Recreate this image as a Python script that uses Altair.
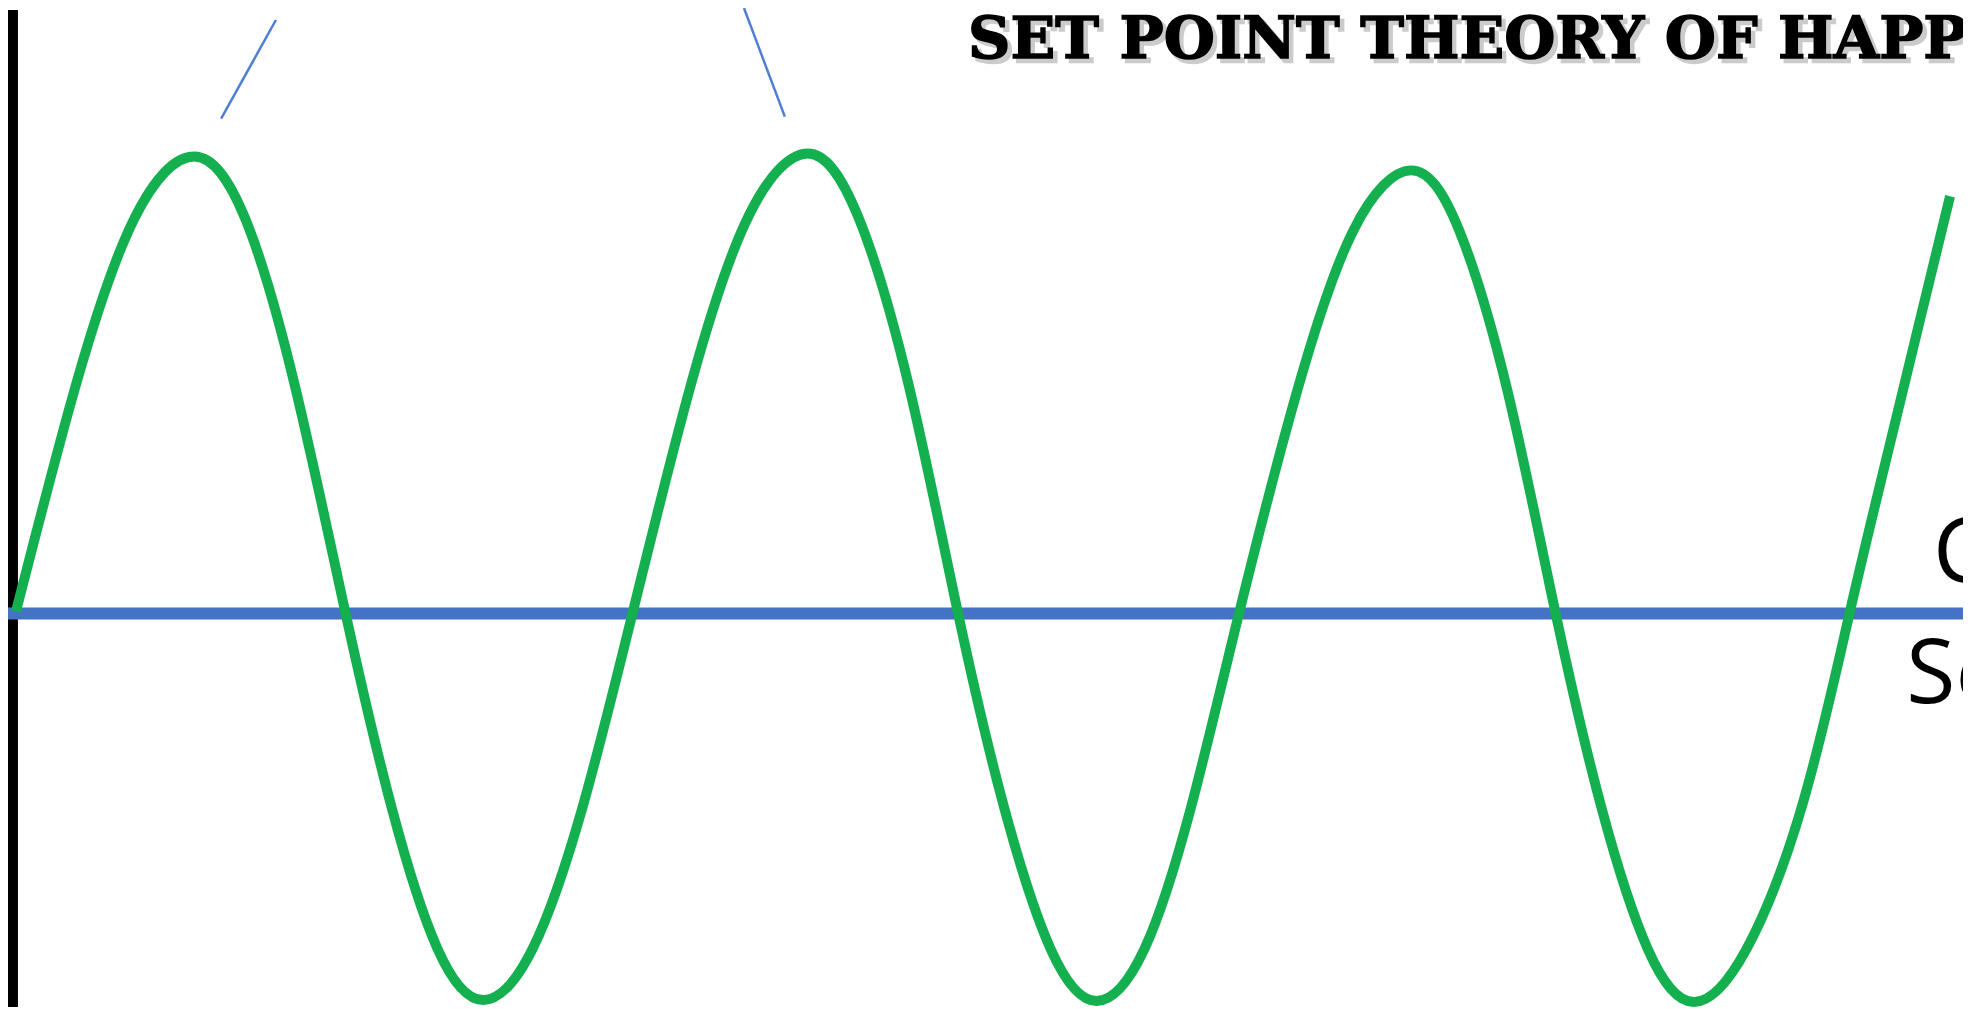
import altair as alt
import pandas as pd

# Green "happiness" curve (time, happiness score; 0 = set point line)
curve_t = [0.08, 0.68, 1.27, 1.87, 2.38, 2.88, 3.39, 3.85, 4.31, 4.77, 5.27, 5.77, 6.27,
           6.86, 7.44, 8.03, 8.53, 9.04, 9.54, 10.00, 10.47, 10.93, 11.41, 11.88, 12.36,
           12.94, 13.51, 14.09, 14.57, 15.06, 15.54, 16.00, 16.47, 16.93, 17.45, 18.02, 18.49,
           18.84, 19.22, 19.50]
curve_h = [0.02, 2.29, 3.97, 4.59, 3.97, 2.29, 0.00, -1.94, -3.36, -3.88, -3.36, -1.94, 0.00,
           2.31, 4.00, 4.62, 4.00, 2.31, 0.00, -1.94, -3.37, -3.89, -3.37, -1.94, 0.00,
           2.22, 3.85, 4.45, 3.85, 2.22, 0.00, -1.95, -3.38, -3.90, -3.38, -1.91, 0.00,
           1.47, 3.04, 4.19]

# axis ranges
t_range = [0.0, 19.63]
h_range = [-3.95, 6.06]

# set-point baseline
base_h = [0.0]

# left black bar
bar_t = [0.0, 0.10]

# thin blue pointer strokes (start/end)
ptr_t1 = [2.14, 7.39]
ptr_h1 = [4.97, 6.08]
ptr_t2 = [2.69, 7.80]
ptr_h2 = [5.96, 4.99]

# title
title_text = ["SET POINT THEORY OF HAPPINESS"]
title_t = [9.64]
title_h = [5.58]

# right-side labels
label_text = ["Current", "Set point"]
label_t = [19.33, 19.06]
label_h = [0.32, -0.90]

xs = alt.Scale(domain=t_range, nice=False, zero=False)
ys = alt.Scale(domain=h_range, nice=False, zero=False)

curve_df = pd.DataFrame({"t": curve_t, "h": curve_h})
base_df = pd.DataFrame({"t": [t_range[0]], "t2": [t_range[1]], "h": base_h})
bar_df = pd.DataFrame({"t": [bar_t[0]], "t2": [bar_t[1]], "h": [h_range[0]], "h2": [h_range[1]]})
ptr_df = pd.DataFrame({"t": ptr_t1, "h": ptr_h1, "t2": ptr_t2, "h2": ptr_h2})
title_df = pd.DataFrame({"t": title_t, "h": title_h, "txt": title_text})
label_df = pd.DataFrame({"t": label_t, "h": label_h, "txt": label_text})

X = alt.X("t:Q", scale=xs, axis=None)
Y = alt.Y("h:Q", scale=ys, axis=None)

bar = alt.Chart(bar_df).mark_rect(color="#000000").encode(x=X, x2="t2:Q", y=Y, y2="h2:Q")

base = alt.Chart(base_df).mark_rule(color="#4472C4", strokeWidth=12).encode(x=X, x2="t2:Q", y=Y)

curve = alt.Chart(curve_df).mark_line(color="#14B050", strokeWidth=10,
                                      interpolate="natural", clip=False).encode(x=X, y=Y)

ptr = alt.Chart(ptr_df).mark_rule(color="#4F7FD4", strokeWidth=2.5).encode(
    x=X, x2="t2:Q", y=Y, y2="h2:Q")

title_shadow = alt.Chart(title_df).mark_text(
    font="DejaVu Serif", fontWeight="bold", fontSize=59, align="left",
    baseline="alphabetic", color="#808080", stroke="#808080", strokeWidth=2.5,
    opacity=0.4, dx=4, dy=4).encode(x=X, y=Y, text="txt:N")

title = alt.Chart(title_df).mark_text(
    font="DejaVu Serif", fontWeight="bold", fontSize=59, align="left",
    baseline="alphabetic", color="#000000", stroke="#000000", strokeWidth=1.5).encode(
    x=X, y=Y, text="txt:N")

labels = alt.Chart(label_df).mark_text(
    font="Open Sans", fontSize=90, align="left", baseline="alphabetic",
    color="#000000").encode(x=X, y=Y, text="txt:N")

chart = alt.layer(bar, base, curve, ptr, title_shadow, title, labels).properties(
    width=1963, height=1001,
    autosize=alt.AutoSizeParams(type="none"),
    padding=0,
    background="#ffffff",
).configure_view(stroke=None)

chart.save("out.html", embed_options={"renderer": "svg", "actions": False})
